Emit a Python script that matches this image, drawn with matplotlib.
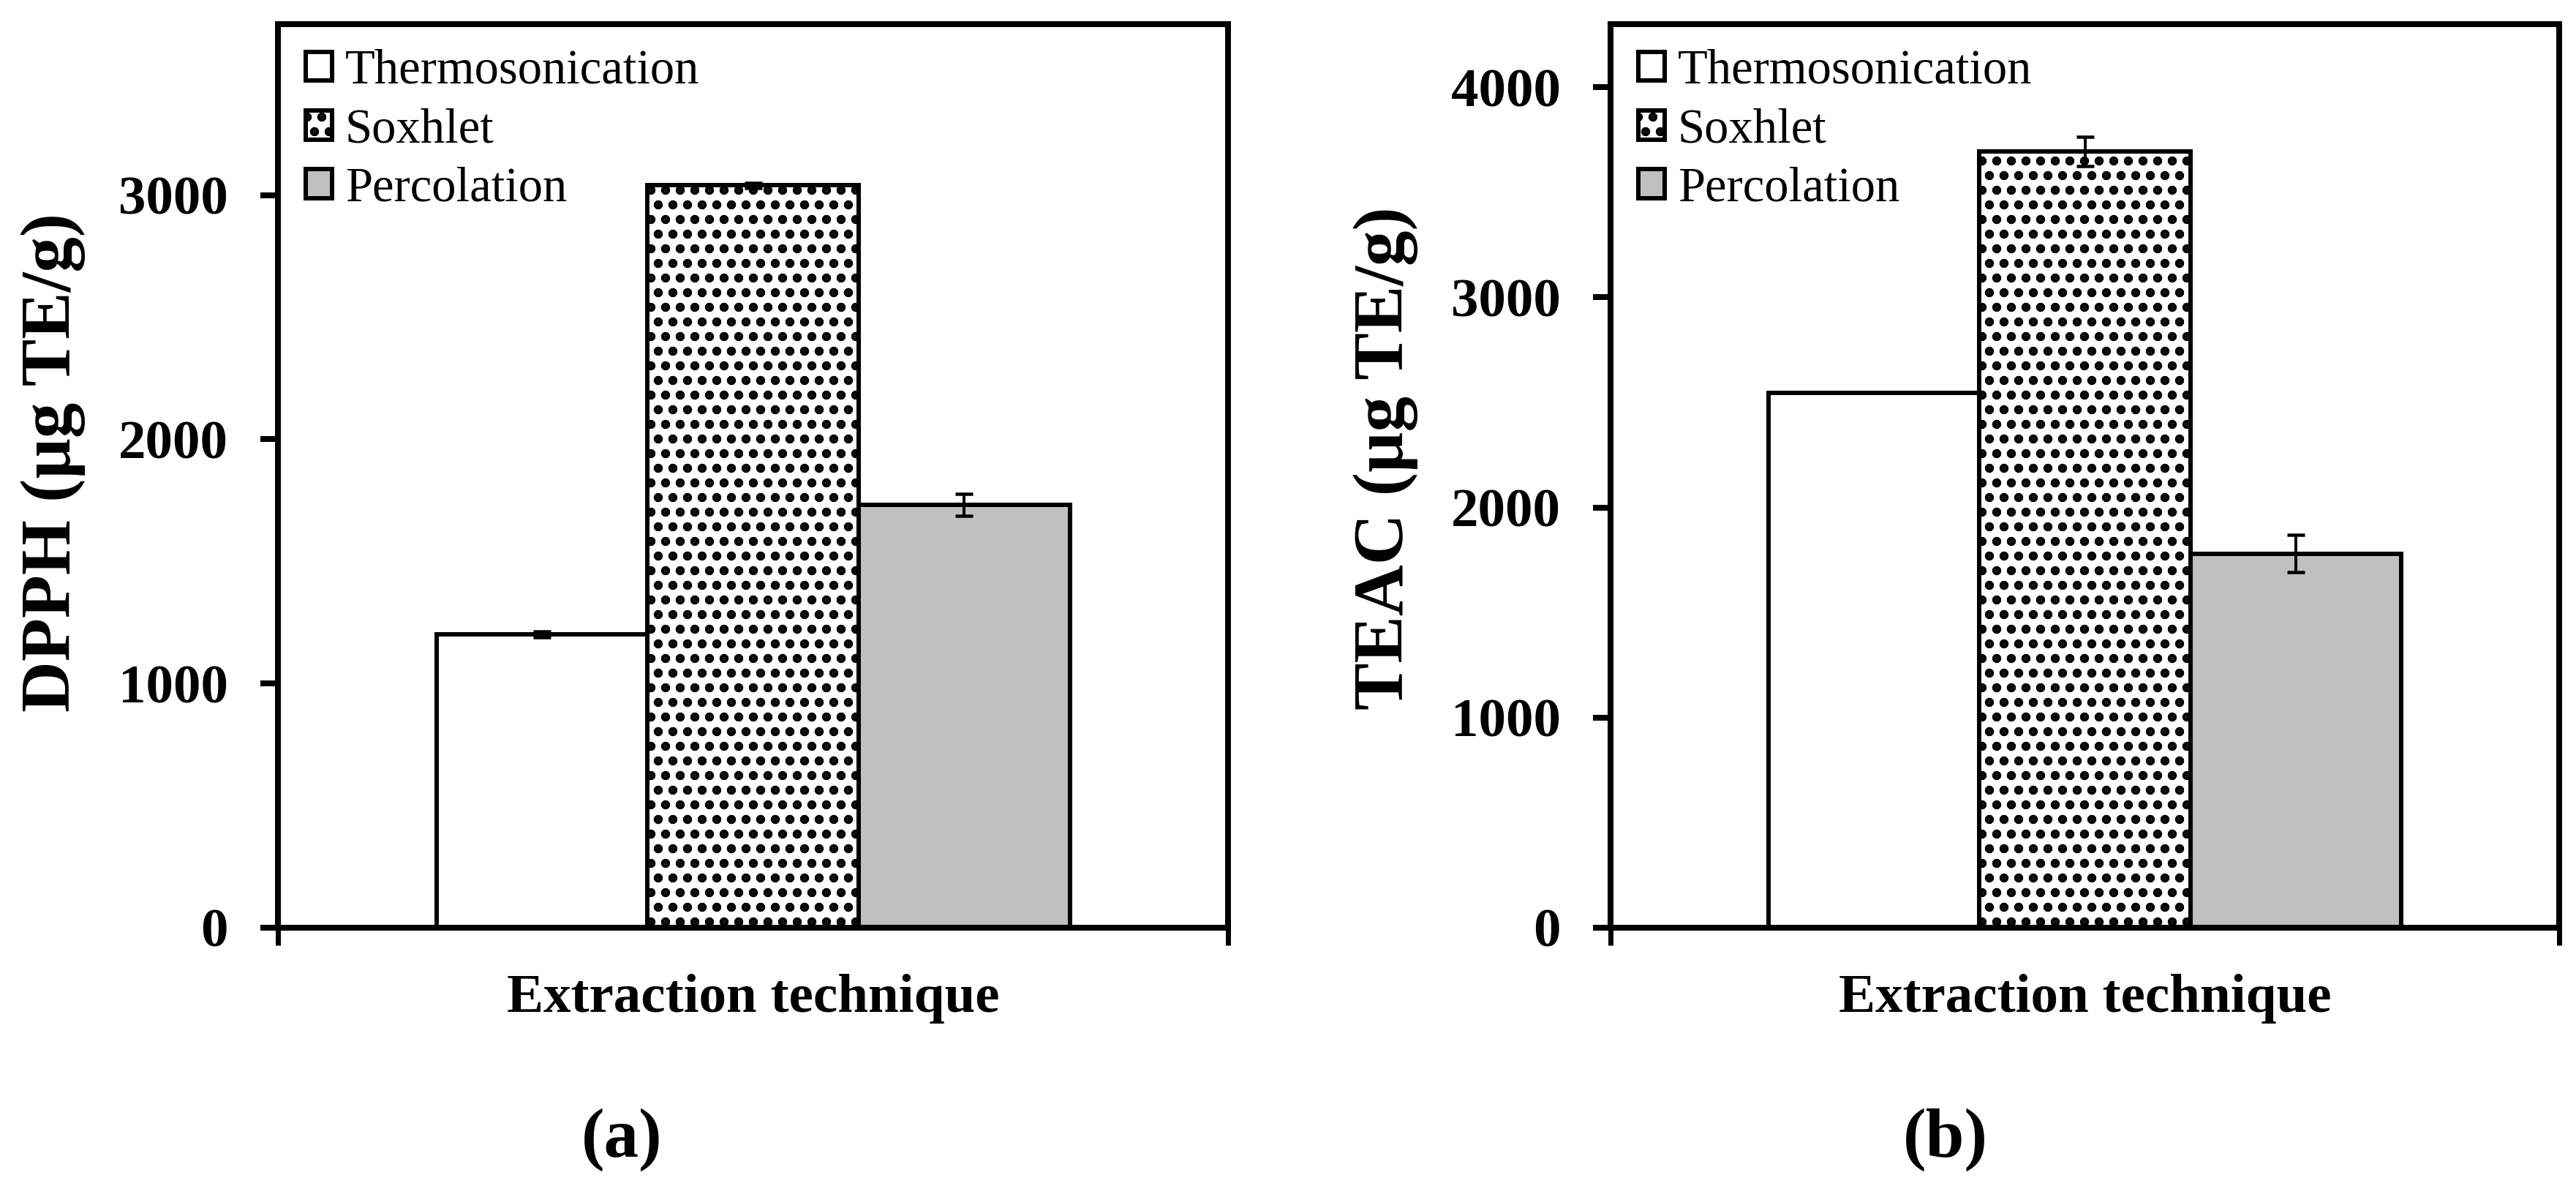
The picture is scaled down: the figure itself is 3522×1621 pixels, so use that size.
import numpy as np
import matplotlib
matplotlib.use("Agg")
import matplotlib.pyplot as plt

techniques = ["Thermosonication", "Soxhlet", "Percolation"]
dpph_values = [1200, 3040, 1732]
dpph_errors = [12, 10, 45]
teac_values = [2545, 3695, 1780]
teac_errors = [0, 70, 88]
dpph_ticks = [0, 1000, 2000, 3000]
teac_ticks = [0, 1000, 2000, 3000, 4000]

DPI = 120
W, H = 3522, 1621

plt.rcParams["font.family"] = ["Liberation Serif", "DejaVu Serif"]
plt.rcParams["hatch.linewidth"] = 5.0
plt.rcParams["hatch.color"] = "black"

fills = ["white", "white", "#c0c0c0"]
hatches = [None, ".", None]


def px(x):
    # pixels -> points at this dpi
    return x * 72.0 / DPI


def draw_panel(ax, values, errors, yticks, ymax, ylabel, label_x, label_y):
    n = len(values)
    width = 1.0 / (n + 1.5)
    offsets = (np.arange(n) - (n - 1) / 2) * width
    for off, val, err, name, color, hatch in zip(offsets, values, errors, techniques, fills, hatches):
        ax.bar(off, val, width, yerr=err, color=color, edgecolor="black",
               linewidth=px(6), hatch=hatch, label=name, capsize=px(12),
               error_kw=dict(elinewidth=px(4), capthick=px(4.5), ecolor="black"))

    ax.set_xlim(-0.5, 0.5)
    ax.set_ylim(0, ymax)
    for s in ax.spines.values():
        s.set_linewidth(px(8))
    ax.set_xticks([-0.5, 0.5], labels=["", ""])
    ax.tick_params(axis="x", direction="out", length=px(24), width=px(7))
    ax.set_yticks(yticks, labels=[str(t) for t in yticks], fontweight="bold", fontsize=45)
    ax.tick_params(axis="y", direction="out", length=px(24), width=px(8), pad=px(44))

    ax.set_ylabel(ylabel, fontsize=58, fontweight="bold", va="baseline")
    ax.yaxis.set_label_coords(label_x, label_y)
    ax.set_xlabel("Extraction technique", fontsize=45, fontweight="bold", va="baseline")
    ax.xaxis.set_label_coords(0.5, -(1383 - 1268) / 1235)

    ax.legend(loc="upper left", bbox_to_anchor=(38 / 1299, 1 - 34 / 1235), frameon=False,
              fontsize=40, handlelength=0.54, handleheight=0.54, handletextpad=0.27,
              labelspacing=0.29, borderpad=0, borderaxespad=0)


fig = plt.figure(figsize=(W / DPI, H / DPI), dpi=DPI)
ax_a = fig.add_axes([380 / W, (H - 1268) / H, 1299 / W, 1235 / H])
ax_b = fig.add_axes([2202 / W, (H - 1268) / H, 1297 / W, 1235 / H])

draw_panel(ax_a, dpph_values, dpph_errors, dpph_ticks, 3700, "DPPH (µg TE/g)",
           (96 - 380) / 1299, 0.515)
draw_panel(ax_b, teac_values, teac_errors, teac_ticks, 4300, "TEAC (µg TE/g)",
           (1918 - 2202) / 1297, 0.52)

fig.text(850 / W, 40 / H, "(a)", fontsize=57, fontweight="bold", ha="center", va="baseline")
fig.text(2660 / W, 40 / H, "(b)", fontsize=57, fontweight="bold", ha="center", va="baseline")

fig.savefig("out.png", dpi=DPI)
